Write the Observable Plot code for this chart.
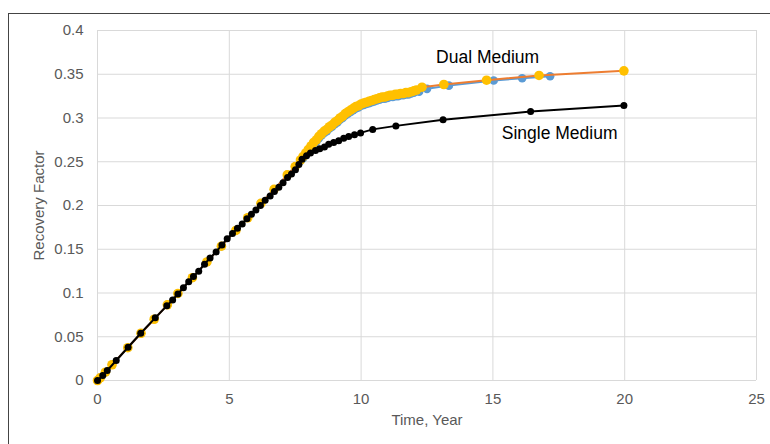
<!DOCTYPE html>
<html><head><meta charset="utf-8">
<script src="https://cdn.jsdelivr.net/npm/d3@7"></script>
<script src="https://cdn.jsdelivr.net/npm/@observablehq/plot@0.6"></script>
<style>
body{margin:0;background:#fff;}
#wrap{position:relative;width:770px;height:444px;overflow:hidden;}
#frame{position:absolute;left:8px;top:13px;width:800px;height:500px;border:1.5px solid #444;box-sizing:border-box;pointer-events:none}
</style></head><body><div id="wrap"></div>
<script>
const xTicks = [0, 5, 10, 15, 20, 25];
const yTicks = [0, 0.05, 0.1, 0.15, 0.2, 0.25, 0.3, 0.35, 0.4];

// Single Medium (black)
const singleT = [0,0.2,0.37,0.71,1.16,1.64,2.19,2.63,2.85,3.05,3.26,3.46,3.64,3.84,4.06,4.27,4.5,4.72,4.92,5.12,5.31,5.49,5.67,5.84,6.01,6.18,6.36,6.55,6.71,6.88,7.04,7.21,7.36,7.51,7.64,7.76,7.93,8.08,8.27,8.43,8.61,8.77,8.96,9.15,9.34,9.53,9.75,9.98,10.44,11.32,13.11,16.43,19.97];
const singleV = [0,0.0057,0.0114,0.0229,0.038,0.054,0.0716,0.0853,0.092,0.099,0.106,0.113,0.119,0.125,0.133,0.14,0.147,0.155,0.162,0.168,0.174,0.179,0.185,0.19,0.195,0.2,0.206,0.211,0.216,0.221,0.226,0.232,0.236,0.241,0.247,0.253,0.257,0.26,0.263,0.265,0.267,0.27,0.272,0.274,0.277,0.279,0.281,0.283,0.287,0.291,0.298,0.3074,0.3143];

// Dual Medium, series A (blue)
const dualAT = [0,0.1,0.3,0.55,1.15,1.65,2.15,2.65,3.05,3.6,4.15,4.7,5.25,5.7,6.2,6.7,7.2,7.5,7.7,7.8,7.9,8.0,8.1,8.2,8.3,8.4,8.5,8.6,8.7,8.8,8.9,9.0,9.1,9.2,9.3,9.4,9.5,9.6,9.7,9.8,9.9,10.0,10.1,10.2,10.3,10.4,10.5,10.6,10.7,10.8,10.9,11.0,11.1,11.2,11.3,11.4,11.5,11.6,11.7,11.8,11.9,12.0,12.2,12.5,13.33,15.03,16.11,17.17];
const dualAV = [0,0.003,0.0095,0.018,0.0375,0.054,0.07,0.0865,0.0995,0.1175,0.1355,0.1535,0.1715,0.186,0.2025,0.2185,0.235,0.2445,0.251,0.254,0.258,0.262,0.266,0.27,0.273,0.277,0.28,0.283,0.285,0.288,0.29,0.293,0.295,0.298,0.3,0.303,0.305,0.307,0.309,0.311,0.312,0.314,0.315,0.316,0.317,0.318,0.319,0.32,0.321,0.322,0.322,0.323,0.324,0.324,0.325,0.325,0.326,0.326,0.327,0.327,0.328,0.329,0.330,0.3333,0.337,0.3429,0.3455,0.3478];

// Dual Medium, series B (orange line, yellow markers)
const dualBT = [0,0.1,0.3,0.55,1.15,1.65,2.15,2.65,3.05,3.6,4.15,4.7,5.25,5.7,6.2,6.7,7.2,7.5,7.7,7.8,7.9,8.0,8.1,8.2,8.3,8.4,8.5,8.6,8.7,8.8,8.9,9.0,9.1,9.2,9.3,9.4,9.5,9.6,9.7,9.8,9.9,10.0,10.1,10.2,10.3,10.4,10.5,10.6,10.7,10.8,10.9,11.0,11.1,11.2,11.3,11.4,11.5,11.6,11.7,11.8,11.9,12.0,12.1,12.31,13.14,14.76,16.75,19.97];
const dualBV = [0,0.003,0.0095,0.018,0.0375,0.054,0.07,0.0865,0.0995,0.1175,0.1355,0.1535,0.1715,0.186,0.2025,0.2185,0.235,0.2445,0.252,0.256,0.26,0.264,0.268,0.272,0.275,0.279,0.282,0.285,0.287,0.29,0.292,0.295,0.297,0.3,0.302,0.305,0.307,0.309,0.311,0.313,0.314,0.316,0.317,0.318,0.319,0.32,0.321,0.322,0.323,0.324,0.324,0.325,0.326,0.326,0.327,0.327,0.328,0.328,0.329,0.329,0.33,0.331,0.332,0.3352,0.3383,0.3432,0.3486,0.3539];

const labelText = ["Dual Medium", "Single Medium"];
const labelT = [14.8, 17.53];
const labelV = [0.369, 0.282];

const single = singleT.map((t, i) => ({t, v: singleV[i]}));
const dualA = dualAT.map((t, i) => ({t, v: dualAV[i]}));
const dualB = dualBT.map((t, i) => ({t, v: dualBV[i]}));
const labels = labelText.map((text, i) => ({text, t: labelT[i], v: labelV[i]}));

const font = "Liberation Sans, Arial, sans-serif";
const chart = Plot.plot({
  width: 770, height: 444,
  marginLeft: 97, marginRight: 14, marginTop: 30, marginBottom: 64,
  style: {fontFamily: font, fontSize: "15px", color: "#595959", background: "transparent"},
  x: {domain: [0, 25]},
  y: {domain: [0, 0.4]},
  marks: [
    Plot.gridX(xTicks, {stroke: "#d9d9d9", strokeOpacity: 1, strokeWidth: 1}),
    Plot.gridY(yTicks, {stroke: "#d9d9d9", strokeOpacity: 1, strokeWidth: 1}),
    Plot.axisX({ticks: xTicks, tickSize: 0, tickPadding: 13, label: "Time, Year", labelAnchor: "center", labelArrow: "none", labelOffset: 44, fill: "#595959"}),
    Plot.axisY({ticks: yTicks, tickSize: 0, tickPadding: 14, tickFormat: d => String(d), label: "Recovery Factor", labelAnchor: "center", labelArrow: "none", labelOffset: 64, fill: "#595959"}),
    Plot.line(dualA, {x: "t", y: "v", stroke: "#5b9bd5", strokeWidth: 2}),
    Plot.dot(dualA, {x: "t", y: "v", r: 4.3, fill: "#5b9bd5"}),
    Plot.line(dualB, {x: "t", y: "v", stroke: "#ed7d31", strokeWidth: 2}),
    Plot.dot(dualB, {x: "t", y: "v", r: 4.8, fill: "#ffc000"}),
    Plot.line(single, {x: "t", y: "v", stroke: "#000", strokeWidth: 2}),
    Plot.dot(single, {x: "t", y: "v", r: 3.5, fill: "#000"}),
    Plot.text(labels, {x: "t", y: "v", text: "text", fill: "#000", fontSize: 17.5})
  ]
});
const wrap = document.getElementById("wrap");
wrap.appendChild(chart);
const frame = document.createElement("div");
frame.id = "frame";
wrap.appendChild(frame);
</script>
</body></html>
